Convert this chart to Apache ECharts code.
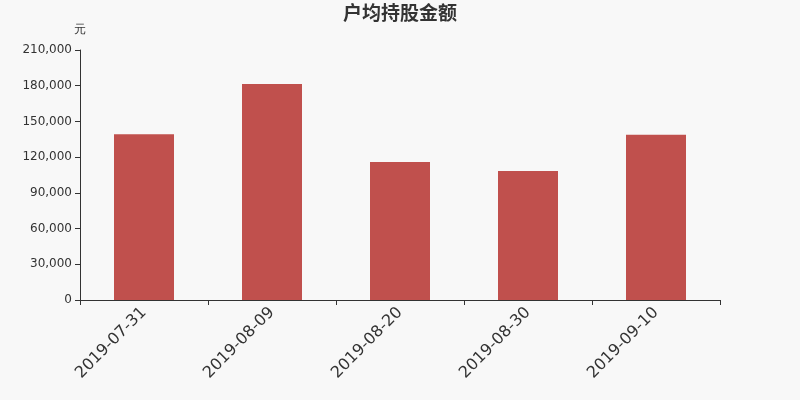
<!DOCTYPE html>
<html>
<head>
<meta charset="utf-8">
<script src="https://cdn.jsdelivr.net/npm/echarts@6/dist/echarts.min.js"></script>
<style>
  html, body { margin: 0; padding: 0; background: #f8f8f8; }
  #main { width: 800px; height: 400px; }
</style>
</head>
<body>
<div id="main"></div>
<script>
// 户均持股金额
let dates = ['2019-07-31', '2019-08-09', '2019-08-20', '2019-08-30', '2019-09-10'];
let amounts = [139200, 181400, 116000, 108300, 138900];

let chart = echarts.init(document.getElementById('main'));
chart.setOption({
    backgroundColor: '#f8f8f8',
    title: {
        text: '户均持股金额',
        left: 'center',
        top: -2,
        textStyle: { fontSize: 19, fontWeight: 'bold', color: '#333', fontFamily: 'Noto Sans CJK SC' }
    },
    grid: { left: 80, right: 80, top: 50, bottom: 100 },
    xAxis: {
        type: 'category',
        data: dates,
        axisLine: { lineStyle: { color: '#333' } },
        axisTick: { show: true, alignWithLabel: false, length: 5, lineStyle: { color: '#333' } },
        axisLabel: { rotate: 45, fontSize: 16, color: '#333', margin: 10, interval: 0, fontFamily: 'DejaVu Sans' }
    },
    yAxis: {
        type: 'value',
        name: '元',
        nameGap: 14,
        nameTextStyle: { color: '#333', fontSize: 12 },
        min: 0,
        max: 210000,
        interval: 30000,
        axisLine: { show: true, lineStyle: { color: '#333' } },
        axisTick: { show: true, lineStyle: { color: '#333' } },
        splitLine: { show: false },
        axisLabel: {
            color: '#333', fontSize: 12, fontFamily: 'DejaVu Sans',
            formatter: v => v.toLocaleString('en-US')
        }
    },
    series: [{
        type: 'bar',
        data: amounts,
        barWidth: 60,
        itemStyle: { color: '#c0504d' }
    }]
});
</script>
</body>
</html>
